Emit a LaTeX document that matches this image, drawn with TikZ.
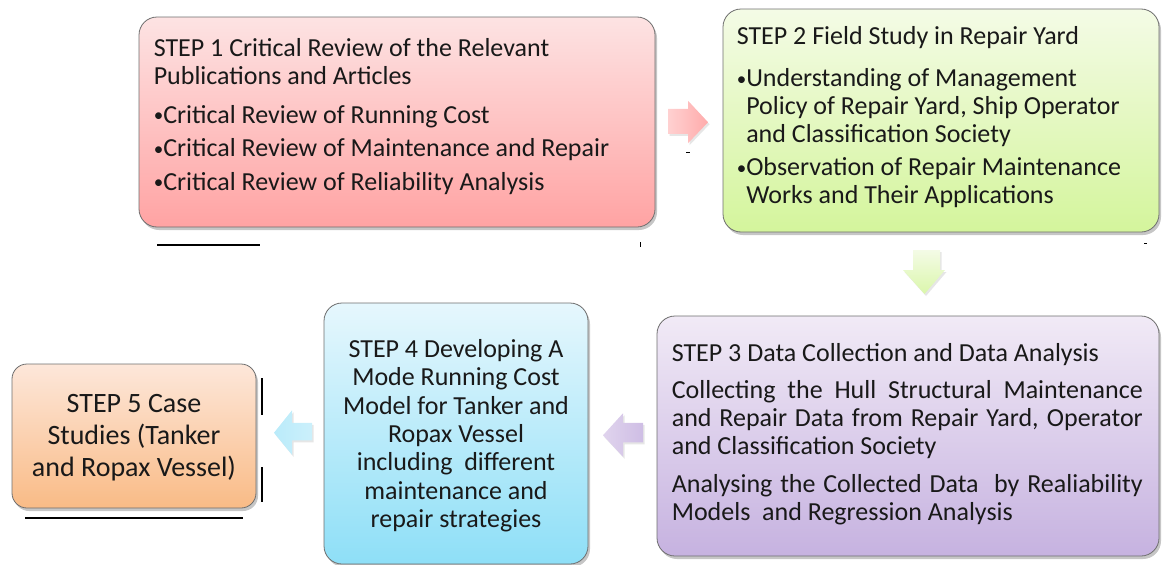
\documentclass[tikz,border=0pt]{standalone}
\usepackage{fontspec}
\setmainfont{Carlito}
\usetikzlibrary{calc,shadows}

\definecolor{boxline}{HTML}{6E6E6E}
\definecolor{redtop}{HTML}{FDE3E3}
\definecolor{redbot}{HTML}{FFA3A3}
\definecolor{greentop}{HTML}{F4FBE6}
\definecolor{greenbot}{HTML}{D4F59C}
\definecolor{violettop}{HTML}{F1EAF6}
\definecolor{violetbot}{HTML}{C6B2E0}
\definecolor{bluetop}{HTML}{E6F7FD}
\definecolor{bluebot}{HTML}{8EDFF7}
\definecolor{orangetop}{HTML}{FDE7DA}
\definecolor{orangebot}{HTML}{F9BB86}

% small bullet in front of the list lines
\newcommand\listdot{\raisebox{1.5pt}{\fontsize{19}{19}\selectfont•}}
% one line of step 3, spread over the full width
\newcommand\fullline[1]{{\spaceskip=0pt\makebox[471pt][s]{#1}}}

\tikzset{
  stepbox/.style={draw=boxline, line width=0.8pt, rounded corners=18pt,
    drop shadow={opacity=0.45, shadow xshift=2pt, shadow yshift=-3pt}},
  steptext/.style={inner sep=0pt, text width=#1, text=black!90,
    font=\fontsize{26}{28}\selectfont,
    execute at begin node={\spaceskip=\fontdimen2\font\xspaceskip=0pt}},
  blockarrow/.style={drop shadow={opacity=0.2, shadow xshift=1.5pt, shadow yshift=-2pt}},
  rule/.style={line width=1.4pt, black},
}

\begin{document}
\begin{tikzpicture}[x=1pt,y=1pt]
   \useasboundingbox (0,0) rectangle (1163,-565);

   % the five steps
   \node[stepbox, top color=redtop, bottom color=redbot,
     minimum width=516pt, minimum height=210pt] (s1) at (397,-122) {};
   \node[stepbox, top color=greentop, bottom color=greenbot,
     minimum width=436pt, minimum height=223pt] (s2) at (941,-120.5) {};
   \node[stepbox, top color=violettop, bottom color=violetbot,
     minimum width=502pt, minimum height=240pt] (s3) at (908,-436) {};
   \node[stepbox, top color=bluetop, bottom color=bluebot,
     minimum width=264pt, minimum height=261pt] (s4) at (456,-433.5) {};
   \node[stepbox, rounded corners=15pt, top color=orangetop, bottom color=orangebot,
     minimum width=244pt, minimum height=144pt] (s5) at (134,-436) {};

   \node[steptext=490pt, align=left, anchor=base west] (t1)
     at ($(s1.north west)+(15,-39.5)$)
     {STEP 1 Critical Review of the Relevant\\
      Publications and Articles\\[11pt]
      \listdot Critical Review of Running Cost\\[5.5pt]
      \listdot Critical Review of Maintenance and Repair\\[5.5pt]
      \listdot Critical Review of Reliability Analysis};
   \node[steptext=420pt, align=left, anchor=base west] (t2)
     at ($(s2.north west)+(14,-36)$)
     {STEP 2 Field Study in Repair Yard\\[14pt]
      \listdot Understanding of Management\\
      \phantom{\listdot}Policy of Repair Yard, Ship Operator\\
      \phantom{\listdot}and Classification Society\\[5pt]
      \listdot Observation of Repair Maintenance\\
      \phantom{\listdot}Works and Their Applications};
   \node[steptext=471pt, align=left, anchor=base west] (t3)
     at ($(s3.north west)+(15,-46)$)
     {STEP 3 Data Collection and Data Analysis\\[9pt]
      \fullline{Collecting the Hull Structural Maintenance}\\
      \fullline{and Repair Data from Repair Yard, Operator}\\
      and Classification Society\\[10pt]
      \fullline{Analysing the Collected Data\ \ by Realiability}\\
      Models\ \ and Regression Analysis};
   \node[steptext=260pt, align=center, anchor=base,
     font=\fontsize{26}{28.3}\selectfont] (t4)
     at ($(s4.north)+(0,-55)$)
     {STEP 4 Developing A\\ Mode Running Cost\\ Model for Tanker and\\
      Ropax Vessel\\ including\ \ different\\ maintenance and\\ repair strategies};
   \node[steptext=240pt, align=center, anchor=base,
     font=\fontsize{28}{32}\selectfont] (t5)
     at ($(s5.north)+(0,-49)$)
     {STEP 5 Case\\ Studies (Tanker\\ and Ropax Vessel)};

   % block arrows between the steps
   \shade[blockarrow, left color=red!18, right color=red!33,
     shift={($(s1.east)!0.5!(s2.west)$)}]
     (-21,12.5) -- (-1,12.5) -- (-1,20.5) -- (19,-1) -- (-1,-22) -- (-1,-12.5)
     -- (-21,-12.5) -- cycle;
   \shade[blockarrow, top color=greentop, bottom color=greenbot!85,
     shift={($(s2.south)!0.5!(s3.north)$)}]
     (-11.5,24) -- (15.5,24) -- (15.5,4) -- (20.5,4) -- (0,-20) -- (-21.5,4)
     -- (-11.5,4) -- cycle;
   \shade[blockarrow, left color=violettop!60!violetbot, right color=violetbot!85,
     shift={($(s4.east)!0.5!(s3.west)$)}]
     (20.5,12) -- (0.5,12) -- (0.5,21.5) -- (-19.5,-0.5) -- (0.5,-22) -- (0.5,-7.5)
     -- (20.5,-7.5) -- cycle;
   \shade[blockarrow, left color=bluetop!50!bluebot, right color=bluetop!70!bluebot,
     shift={($(s5.east)!0.5!(s4.west)$)}]
     (22,12) -- (2,12) -- (2,24.5) -- (-16,2) -- (2,-20) -- (2,-5.5)
     -- (22,-5.5) -- cycle;

   % loose rules
   \draw[rule] (157,-245) -- (260,-245);
   \draw[rule, line width=1pt] (640,-242) -- (640,-247);
   \draw[rule, line width=1pt] (686,-152) -- (690,-152);
   \draw[rule, line width=1pt] (1144,-243) -- (1147,-243);
   \draw[rule] (262,-378) -- (262,-415);
   \draw[rule] (262,-467) -- (262,-502);
   \draw[rule] (25,-518) -- (243,-518);
\end{tikzpicture}
\end{document}
